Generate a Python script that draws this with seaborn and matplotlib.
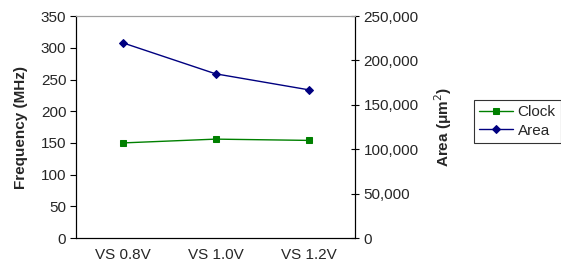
import numpy as np
import pandas as pd
import matplotlib
matplotlib.use("Agg")
import matplotlib.pyplot as plt
from matplotlib.ticker import FuncFormatter
import seaborn as sns

# data
categories = ['VS 0.8V', 'VS 1.0V', 'VS 1.2V']
clock_mhz = [150, 156, 154]
area_um2 = [220000, 185000, 167000]

sns.set_style('white')
plt.rcParams['font.family'] = ['Liberation Sans', 'DejaVu Sans']
plt.rcParams['font.size'] = 11

df = pd.DataFrame({'x': np.arange(len(categories)), 'Clock': clock_mhz, 'Area': area_um2})

fig = plt.figure(figsize=(5.61, 2.73), dpi=100)
ax = fig.add_axes([0.1355, 0.128, 0.4975, 0.813])
ax2 = ax.twinx()

# Clock on left axis, Area on right axis
sns.lineplot(data=df, x='x', y='Clock', ax=ax, color='#008000', marker='s',
             markersize=4.5, markeredgecolor='#008000', linewidth=1, label='Clock', legend=False)
sns.lineplot(data=df, x='x', y='Area', ax=ax2, color='#000080', marker='D',
             markersize=4.5, markeredgecolor='#000080', linewidth=1, label='Area', legend=False)

ax.set_xlim(-0.5, len(categories) - 0.5)
ax.set_ylim(0, 350)
ax.set_yticks(np.arange(0, 351, 50))
ax2.set_ylim(0, 250000)
ax2.set_yticks(np.arange(0, 250001, 50000))
ax2.yaxis.set_major_formatter(FuncFormatter(lambda v, p: f'{int(v):,}'))

# category ticks at bin edges, labels at centres
ax.set_xticks(np.arange(-0.5, len(categories), 1.0))
ax.set_xticklabels([])
ax.set_xticks(np.arange(len(categories)), minor=True)
ax.set_xticklabels(categories, minor=True)
ax.tick_params(axis='x', which='major', direction='inout', length=6, width=0.8, color='black')
ax.tick_params(axis='x', which='minor', length=0, pad=7, labelsize=11)
ax.tick_params(axis='y', direction='out', length=4, width=0.8, color='black', labelsize=11, left=True, pad=3)
ax2.tick_params(axis='y', direction='inout', length=6, width=0.8, color='black', labelsize=11, right=True, pad=3)

ax.set_xlabel('')
ax.set_ylabel('Frequency (MHz)', fontweight='bold', fontsize=11, labelpad=9)
ax2.set_ylabel('Area (μm$^2$)', fontweight='bold', fontsize=11, labelpad=10)

for a in (ax, ax2):
    a.spines['left'].set_color('black')
    a.spines['bottom'].set_color('black')
    a.spines['right'].set_color('black')
    a.spines['top'].set_color('#a0a0a0')
    for s in a.spines.values():
        s.set_linewidth(0.8)

h1, l1 = ax.get_legend_handles_labels()
h2, l2 = ax2.get_legend_handles_labels()
leg = fig.legend(h1 + h2, l1 + l2, loc='upper left', bbox_to_anchor=(0.845, 0.635),
                 frameon=True, fancybox=False, edgecolor='black', fontsize=11,
                 handlelength=2.2, borderpad=0.35, labelspacing=0.3, handletextpad=0.3,
                 borderaxespad=0)
leg.get_frame().set_linewidth(0.8)

fig.savefig('out.png', dpi=100)
